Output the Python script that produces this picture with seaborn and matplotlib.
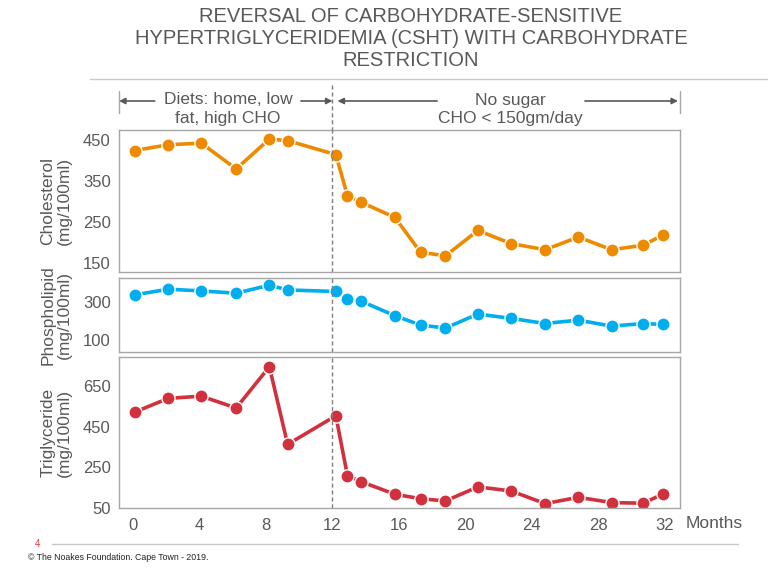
import numpy as np
import pandas as pd
import seaborn as sns
import matplotlib.pyplot as plt
import matplotlib.transforms as mtransforms
from matplotlib.lines import Line2D

# Data
months = [0.1, 2.1, 4.1, 6.2, 8.2, 9.3, 12.2, 12.9, 13.7, 15.75, 17.3, 18.8,
          20.75, 22.75, 24.8, 26.8, 28.8, 30.7, 31.9]
cholesterol = [424, 438, 442, 379, 452, 448, 414, 314, 298, 261, 176, 167,
               229, 197, 182, 213, 182, 193, 218]
phospholipid = [339, 369, 360, 348, 390, 365, 357, 318, 307, 229, 180, 164,
                238, 215, 188, 206, 174, 188, 183]
triglyceride = [521, 588, 599, 541, 743, 363, 503, 210, 181, 119, 97, 86,
                155, 135, 73, 104, 78, 75, 120]

chol_ticks = [150, 250, 350, 450]
phos_ticks = [100, 300]
trig_ticks = [50, 250, 450, 650]
month_ticks = [0, 4, 8, 12, 16, 20, 24, 28, 32]

df = pd.DataFrame({'Month': months, 'Cholesterol': cholesterol,
                   'Phospholipid': phospholipid, 'Triglyceride': triglyceride})

sns.set_theme(style="white")
plt.rcParams['font.family'] = ['Liberation Sans', 'DejaVu Sans']

TXT = '#595959'
FRAME = '#a6a6a6'

fig = plt.figure(figsize=(7.68, 5.76), dpi=100)
ax1 = fig.add_axes([0.155, 0.528, 0.730, 0.247])
ax2 = fig.add_axes([0.155, 0.389, 0.730, 0.128])
ax3 = fig.add_axes([0.155, 0.1175, 0.730, 0.2625])

panels = [
    (ax1, 'Cholesterol', '#ee8a00', (128, 475), chol_ticks, 'Cholesterol\n(mg/100ml)'),
    (ax2, 'Phospholipid', '#00aeef', (38, 427), phos_ticks, 'Phospholipid\n(mg/100ml)'),
    (ax3, 'Triglyceride', '#d1313d', (55, 790), trig_ticks, 'Triglyceride\n(mg/100ml)'),
]

for ax, col, color, ylim, ticks, label in panels:
    sns.lineplot(data=df, x='Month', y=col, ax=ax, color=color, marker='o',
                 markersize=9.5, markeredgecolor='white', markeredgewidth=1,
                 linewidth=2.6)
    ax.set_xlim(-0.85, 32.9)
    ax.set_ylim(*ylim)
    ax.set_yticks(ticks)
    ax.set_ylabel(label, fontsize=12.5, color=TXT, linespacing=1.1, labelpad=8)
    ax.set_xlabel('')
    ax.tick_params(axis='y', length=0, pad=6, labelsize=12, labelcolor=TXT)
    for s in ax.spines.values():
        s.set_color(FRAME)
        s.set_linewidth(1)
    ax.axvline(12, color='#7f7f7f', ls=(0, (3, 2)), lw=1)

for ax in (ax1, ax2):
    ax.set_xticks([])

ax3.set_xticks(month_ticks)
ax3.tick_params(axis='x', length=0, pad=7, labelsize=12, labelcolor=TXT)
bx = mtransforms.blended_transform_factory(ax3.transAxes, fig.transFigure)
ax3.text(1.01, 1 - 523 / 576, 'Months', transform=bx, fontsize=12.5,
         color=TXT, ha='left', va='center')

# dashed line running through header region
bt = mtransforms.blended_transform_factory(ax1.transData, fig.transFigure)
fig.add_artist(Line2D([12, 12], [1 - 85 / 576, 0.77], transform=bt,
                      color='#7f7f7f', ls=(0, (3, 2)), lw=1))

# period bars and arrows
ba = mtransforms.blended_transform_factory(ax1.transAxes, fig.transFigure)
for xa in (0, 1):
    fig.add_artist(Line2D([xa, xa], [1 - 91 / 576, 1 - 113 / 576], transform=ba,
                          color=FRAME, lw=1))

ya = 1 - 101 / 576
arrow = dict(arrowstyle='-|>', color=TXT, lw=1.2, mutation_scale=9,
             shrinkA=0, shrinkB=0)
for x0, x1 in [(1.3, -0.85), (10.1, 12.0), (18.3, 12.3), (27.2, 32.8)]:
    ax1.annotate('', xy=(x1, ya), xytext=(x0, ya), xycoords=bt,
                 textcoords=bt, arrowprops=arrow)

ax1.text(5.7, 1 - 109 / 576, 'Diets: home, low\nfat, high CHO', transform=bt,
         ha='center', va='center', fontsize=12.5, color=TXT, linespacing=1.25)
ax1.text(22.7, 1 - 109 / 576, 'No sugar\nCHO < 150gm/day', transform=bt,
         ha='center', va='center', fontsize=12.5, color=TXT, linespacing=1.25)

# title and slide decorations
fig.text(0.535, 1 - 38 / 576,
         'REVERSAL OF CARBOHYDRATE-SENSITIVE\n'
         'HYPERTRIGLYCERIDEMIA (CSHT) WITH CARBOHYDRATE\nRESTRICTION',
         ha='center', va='center', fontsize=14.5, color=TXT, linespacing=1.2)
fig.add_artist(Line2D([90 / 768, 1], [1 - 79 / 576] * 2, color='#c8c8c8', lw=1))
fig.add_artist(Line2D([52 / 768, 738 / 768], [1 - 544 / 576] * 2,
                      color='#c8c8c8', lw=1))
fig.text(35 / 768, 1 - 544 / 576, '4', color='#e0393e', fontsize=7,
         ha='left', va='center')
fig.text(28 / 768, 1 - 558 / 576, '© The Noakes Foundation. Cape Town - 2019.',
         color='#222222', fontsize=6.3, ha='left', va='center')

fig.savefig('out.png', dpi=100)
